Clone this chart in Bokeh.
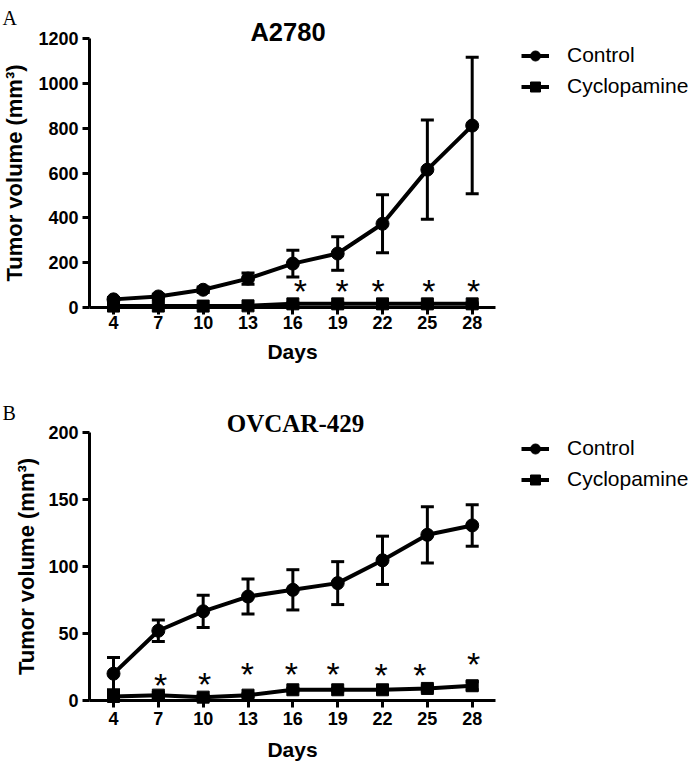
from bokeh.plotting import figure
from bokeh.layouts import column
from bokeh.models import FixedTicker, Legend, LegendItem, Label, Range1d
from bokeh.core.properties import value
from bokeh.embed import file_html
from bokeh.resources import INLINE

# ---------------- data ----------------
days = [4, 7, 10, 13, 16, 19, 22, 25, 28]
day_ticks = [4, 7, 10, 13, 16, 19, 22, 25, 28]

# Panel A: A2780
a_control = [35, 48, 78, 128, 195, 240, 373, 615, 812]
a_control_err = [8, 10, 12, 25, 60, 75, 130, 222, 305]
a_cyclo = [5, 5, 5, 6, 15, 15, 15, 15, 15]
a_cyclo_err = [2, 2, 2, 2, 4, 4, 4, 4, 4]
a_star_x = [16.5, 19.3, 21.7, 25.1, 28.1]
a_star_y = [100, 100, 100, 100, 100]
a_yticks = [0, 200, 400, 600, 800, 1000, 1200]

# Panel B: OVCAR-429
b_control = [20, 52, 66.5, 77.5, 82.5, 87.5, 104.5, 123.5, 130.5]
b_control_err = [12, 8, 12, 13, 15, 16, 18, 21, 15.5]
b_cyclo = [3, 4, 2.5, 4, 8, 8, 8, 9, 11]
b_cyclo_err = [2, 2, 1, 1, 1, 1, 1, 2, 3]
b_star_x = [7.15, 10.1, 12.95, 15.9, 18.7, 21.9, 24.5, 28.1]
b_star_y = [16, 17, 24.5, 24.5, 24.5, 23.5, 23.5, 32]
b_yticks = [0, 50, 100, 150, 200]

series_labels = ["Control", "Cyclopamine"]
y_label = "Tumor volume (mm\u00b3)"
x_label = "Days"

SANS = "Liberation Sans"
SERIF = "Liberation Serif"

# ---------------- layout (pixels) ----------------
W = 693
PX_DAY4, PX_DAY28 = 113.0, 471.7
PX_PER_DAY = (PX_DAY28 - PX_DAY4) / 24.0


def px2x(px):
    return 4 + (px - PX_DAY4) / PX_PER_DAY


def panel(H, y0px, ytop_px, ytop_val, yticks, ctrl, ctrl_err, cyc, cyc_err,
          star_x, star_y, title, title_font, title_size, title_x, title_base,
          letter, letter_base, legend_top, tick_standoff, xlabel_standoff,
          ylabel_standoff):
    s = (y0px - ytop_px) / ytop_val
    y_lo = -(H - y0px) / s
    y_hi = y0px / s
    x_lo, x_hi = px2x(0), px2x(W)
    ax_left, ax_right = px2x(89), px2x(495)
    p = figure(width=W, height=H, title=None,
               x_range=Range1d(x_lo, x_hi), y_range=Range1d(y_lo, y_hi),
               output_backend="svg", toolbar_location=None,
               min_border=0, min_border_left=0, min_border_right=0,
               min_border_top=0, min_border_bottom=0)
    p.outline_line_color = None
    p.xgrid.visible = False
    p.ygrid.visible = False
    p.background_fill_color = "white"
    p.border_fill_color = "white"

    xa = p.xaxis[0]
    xa.fixed_location = 0
    xa.bounds = (ax_left, ax_right)
    xa.ticker = FixedTicker(ticks=day_ticks)
    ya = p.yaxis[0]
    ya.fixed_location = ax_left
    ya.bounds = (0, ytop_val)
    ya.ticker = FixedTicker(ticks=yticks)
    for ax in (xa, ya):
        ax.axis_line_width = 3
        ax.axis_line_color = "black"
        ax.major_tick_line_width = 3
        ax.major_tick_line_color = "black"
        ax.major_tick_out = 7
        ax.major_tick_in = 0
        ax.minor_tick_line_color = None
        ax.major_label_text_font = SANS
        ax.major_label_text_font_style = "bold"
        ax.major_label_text_font_size = "18px"
        ax.major_label_text_color = "black"
        ax.axis_label_text_font = SANS
        ax.axis_label_text_font_style = "bold"
        ax.axis_label_text_color = "black"
    xa.axis_label_text_font_size = "21px"
    ya.axis_label_text_font_size = "22px"
    xa.axis_label = x_label
    xa.major_label_standoff = tick_standoff
    xa.axis_label_standoff = xlabel_standoff
    ya.axis_label = y_label
    ya.major_label_standoff = 4
    ya.axis_label_standoff = ylabel_standoff

    # error bars
    for m, e in ((ctrl, ctrl_err), (cyc, cyc_err)):
        lo = [a - b for a, b in zip(m, e)]
        hi = [a + b for a, b in zip(m, e)]
        p.segment(x0=days, y0=lo, x1=days, y1=hi, line_width=3, line_color="black")
        p.scatter(days, hi, marker="dash", size=13, line_width=3, line_color="black")
        p.scatter(days, lo, marker="dash", size=13, line_width=3, line_color="black")

    lc = p.line(days, ctrl, line_width=4, line_color="black")
    mc = p.scatter(days, ctrl, marker="circle", size=13, color="black")
    ly = p.line(days, cyc, line_width=4, line_color="black")
    my = p.scatter(days, cyc, marker="square", size=12, color="black")

    p.text(x=star_x, y=star_y, text=["*"] * len(star_x),
           text_font=value(SANS), text_font_size="34px",
           text_align="center", text_baseline="alphabetic",
           y_offset=6, text_color="black")

    leg_h = 25 + 6 + 25
    leg = Legend(items=[LegendItem(label=series_labels[0], renderers=[lc, mc]),
                        LegendItem(label=series_labels[1], renderers=[ly, my])],
                 location=(521, H - legend_top - leg_h), glyph_width=28,
                 glyph_height=25, label_height=25, spacing=6, padding=0,
                 margin=0, label_standoff=18, border_line_color=None,
                 background_fill_alpha=0, label_text_font=SANS,
                 label_text_font_size="21px", label_text_color="black")
    p.add_layout(leg)

    p.add_layout(Label(x=title_x, y=H - title_base, x_units="screen", y_units="screen",
                       text=title, text_font=title_font, text_font_style="bold",
                       text_font_size=title_size, text_align="center",
                       text_baseline="alphabetic", text_color="black"))
    p.add_layout(Label(x=2, y=H - letter_base, x_units="screen", y_units="screen",
                       text=letter, text_font=SERIF, text_font_size="20px",
                       text_align="left", text_baseline="alphabetic",
                       text_color="black"))
    return p


HA = 385
HB = 763 - HA
pa = panel(HA, 306.7, 38.3, 1200, a_yticks, a_control, a_control_err,
           a_cyclo, a_cyclo_err, a_star_x, a_star_y, "A2780", SANS, "25.5px",
           287.5, 31.7, "A", 17, 42.5, 2, 7, 8)
pb = panel(HB, 700 - HA, 431.7 - HA, 200, b_yticks, b_control, b_control_err,
           b_cyclo, b_cyclo_err, b_star_x, b_star_y, "OVCAR-429", SERIF, "25px",
           295, 423.3 - HA, "B", 412 - HA, 448.3 - 12.5 - HA, 4, 10, 6)

layout = column(pa, pb, spacing=0)
open("out.html", "w").write(file_html(layout, INLINE))
